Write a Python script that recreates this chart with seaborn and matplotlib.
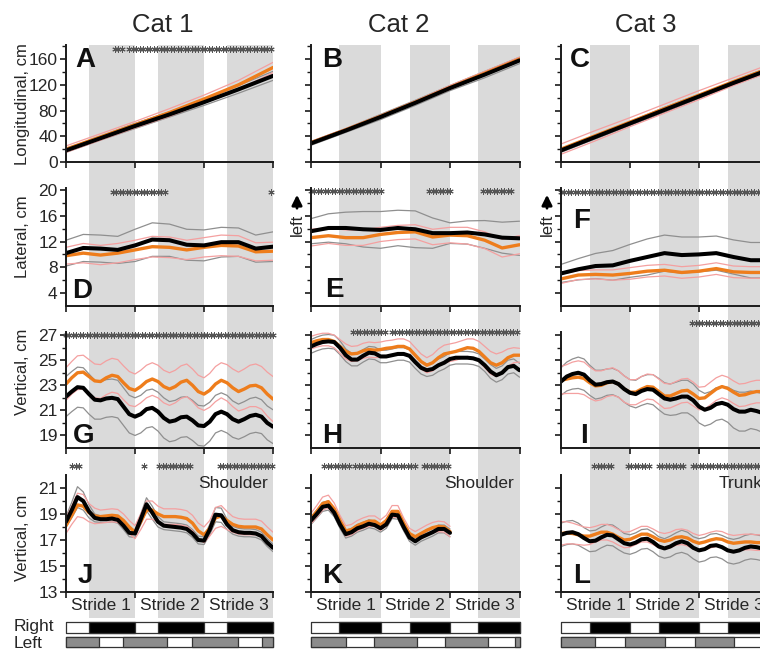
import numpy as np
import pandas as pd
import seaborn as sns
from matplotlib import pyplot as plt

# ---- sample positions (stride units) ----
phase_long = np.linspace(0, 3, 7)
phase_lat = np.linspace(0, 3, 13)
phase_vert = np.linspace(0, 3, 37)
phase_k = np.linspace(0, 2, 25)

# ---- Longitudinal (A, B, C) ----
A_black = [18, 37, 56, 74, 93, 113, 134]
A_black_sd = [3, 3, 4, 4, 5, 6, 7]
A_orange = [20, 39, 58, 77, 98, 120, 147]
A_orange_sd = [5, 5, 5, 6, 6, 7, 8]

B_black = [29, 49, 70, 92, 115, 136, 158]
B_black_sd = [3, 3, 4, 4, 4, 5, 5]
B_orange = [30, 50, 71, 93, 116, 138, 160]
B_orange_sd = [2, 2, 2, 2, 3, 3, 3]

C_black = [18, 39, 60, 81, 102, 123, 143]
C_black_sd = [3, 3, 3, 4, 3, 3, 4]
C_orange = [20, 41, 62, 83, 104, 125, 145]
C_orange_sd = [8, 8, 7, 7, 7, 6, 6]

# ---- Lateral (D, E, F) ----
D_black = [10.2, 11.0, 10.9, 10.7, 11.4, 12.3, 12.2, 11.5, 11.4, 11.9, 11.9, 10.9, 11.2]
D_black_sd = [2.0, 2.1, 2.1, 2.1, 2.5, 2.6, 2.5, 2.4, 2.4, 2.3, 2.2, 2.1, 2.3]
D_orange = [9.8, 10.2, 9.9, 10.2, 10.7, 11.2, 11.1, 10.7, 11.1, 11.4, 11.3, 10.4, 10.5]
D_orange_sd = [1.3, 1.5, 1.5, 1.5, 1.5, 1.6, 1.6, 1.5, 1.5, 1.6, 1.6, 1.4, 1.4]

E_black = [13.6, 14.1, 14.1, 13.9, 13.8, 14.1, 13.9, 13.3, 13.3, 13.4, 13.1, 12.6, 12.5]
E_black_sd = [1.95, 2.2, 2.45, 2.75, 2.85, 2.75, 2.85, 2.35, 1.6, 1.8, 2.15, 2.4, 2.65]
E_orange = [12.6, 12.9, 12.6, 12.6, 13.1, 13.4, 13.5, 12.7, 13.0, 12.9, 12.2, 11.0, 11.5]
E_orange_sd = [1.3, 1.2, 1.2, 1.2, 1.1, 1.1, 1.1, 1.2, 1.2, 1.3, 1.3, 1.4, 1.4]

F_black = [7.05, 7.7, 8.2, 8.3, 9.0, 9.6, 10.2, 9.9, 10.0, 10.2, 9.6, 9.1, 9.1]
F_black_sd = [1.4, 1.65, 1.95, 2.3, 2.55, 2.8, 2.8, 2.8, 2.7, 2.65, 2.65, 2.75, 2.75]
F_orange = [6.2, 6.8, 6.9, 6.8, 7.05, 7.4, 7.55, 7.2, 7.4, 7.8, 7.3, 7.2, 7.2]
F_orange_sd = [0.7, 0.7, 0.7, 0.8, 0.9, 0.9, 0.9, 0.9, 0.9, 0.9, 0.9, 0.9, 0.9]

# ---- Vertical, row 3 (G, H, I) ----
G_black = [22.1, 22.5, 22.85, 22.8, 22.3, 21.85, 21.8, 21.95, 22.0, 21.9, 21.3, 20.7, 20.5,
           20.7, 21.1, 21.2, 20.9, 20.4, 20.1, 20.2, 20.45, 20.5, 20.2, 19.8, 19.75, 20.1,
           20.7, 20.9, 20.7, 20.3, 20.1, 20.3, 20.55, 20.65, 20.5, 20.0, 19.7]
G_black_sd = [1.6, 1.6, 1.6, 1.6, 1.6, 1.55, 1.5, 1.5, 1.5, 1.5, 1.5, 1.5, 1.5, 1.5, 1.5,
              1.5, 1.55, 1.6, 1.6, 1.6, 1.6, 1.6, 1.6, 1.6, 1.6, 1.55, 1.5, 1.5, 1.5, 1.45,
              1.4, 1.4, 1.4, 1.4, 1.35, 1.35, 1.35]
G_orange = [23.1, 23.6, 24.0, 24.05, 23.7, 23.35, 23.3, 23.6, 23.8, 23.7, 23.2, 22.75, 22.6,
            22.9, 23.3, 23.5, 23.3, 22.9, 22.7, 22.9, 23.25, 23.4, 23.0, 22.5, 22.3, 22.6,
            23.1, 23.4, 23.2, 22.8, 22.5, 22.7, 22.95, 23.0, 22.8, 22.3, 21.9]
G_orange_sd = [1.3, 1.3, 1.35, 1.35, 1.35, 1.35, 1.35, 1.35, 1.35, 1.35, 1.35, 1.35, 1.3,
               1.3, 1.3, 1.3, 1.3, 1.3, 1.3, 1.3, 1.3, 1.3, 1.3, 1.3, 1.3, 1.35, 1.4, 1.4,
               1.45, 1.5, 1.55, 1.6, 1.65, 1.7, 1.7, 1.75, 1.8]

H_black = [26.1, 26.3, 26.45, 26.5, 26.45, 26.0, 25.4, 25.05, 25.05, 25.35, 25.6, 25.55,
           25.3, 25.3, 25.4, 25.5, 25.5, 25.35, 24.85, 24.4, 24.2, 24.3, 24.6, 24.8, 25.1,
           25.2, 25.2, 25.2, 25.15, 25.0, 24.6, 24.1, 23.8, 24.0, 24.45, 24.55, 24.2]
H_black_sd = [0.55, 0.55, 0.55, 0.55, 0.55, 0.55, 0.5, 0.5, 0.5, 0.5, 0.5, 0.5, 0.5, 0.5,
              0.5, 0.5, 0.5, 0.5, 0.5, 0.5, 0.5, 0.5, 0.5, 0.5, 0.5, 0.5, 0.5, 0.5, 0.5,
              0.5, 0.5, 0.55, 0.55, 0.55, 0.55, 0.55, 0.55]
H_orange = [26.4, 26.55, 26.65, 26.65, 26.5, 26.1, 25.7, 25.5, 25.55, 25.75, 25.85, 25.8,
            25.85, 25.95, 26.0, 26.1, 26.1, 25.9, 25.4, 24.9, 24.6, 24.8, 25.2, 25.5, 25.6,
            25.7, 25.85, 26.0, 25.95, 25.7, 25.25, 24.8, 24.6, 24.8, 25.2, 25.4, 25.4]
H_orange_sd = [0.5, 0.5, 0.5, 0.5, 0.5, 0.55, 0.6, 0.6, 0.6, 0.6, 0.6, 0.6, 0.6, 0.6, 0.6,
               0.6, 0.6, 0.6, 0.6, 0.6, 0.6, 0.65, 0.7, 0.7, 0.7, 0.7, 0.7, 0.7, 0.75, 0.8,
               0.85, 0.9, 0.9, 0.85, 0.7, 0.6, 0.55]

I_black = [23.3, 23.7, 23.9, 24.0, 23.85, 23.4, 23.05, 23.1, 23.25, 23.3, 23.1, 22.7, 22.4,
           22.3, 22.55, 22.7, 22.65, 22.3, 21.95, 21.85, 21.95, 22.1, 22.1, 21.8, 21.3,
           21.05, 21.2, 21.5, 21.6, 21.45, 21.1, 20.9, 20.9, 21.05, 20.95, 20.8, 20.7]
I_black_sd = [1.1, 1.15, 1.2, 1.25, 1.25, 1.2, 1.15, 1.1, 1.05, 1.05, 1.05, 1.05, 1.05, 1.1,
              1.15, 1.15, 1.2, 1.25, 1.25, 1.25, 1.3, 1.3, 1.3, 1.3, 1.3, 1.3, 1.3, 1.3,
              1.3, 1.4, 1.5, 1.55, 1.55, 1.5, 1.5, 1.55, 1.6]
I_orange = [23.4, 23.5, 23.6, 23.65, 23.55, 23.2, 22.95, 23.0, 23.2, 23.3, 23.1, 22.7, 22.45,
            22.45, 22.7, 22.9, 22.85, 22.5, 22.15, 22.15, 22.35, 22.55, 22.6, 22.3, 21.95,
            22.0, 22.35, 22.7, 22.9, 22.75, 22.45, 22.2, 22.25, 22.4, 22.5, 22.5, 22.45]
I_orange_sd = [1.1, 1.15, 1.25, 1.3, 1.3, 1.25, 1.2, 1.15, 1.1, 1.1, 1.05, 1.05, 1.0, 1.0,
               1.0, 1.0, 1.0, 1.0, 1.0, 0.95, 0.95, 0.95, 0.95, 0.95, 0.9, 0.9, 0.9, 0.9,
               0.9, 0.9, 0.9, 0.9, 0.9, 0.9, 0.9, 0.9, 0.9]

# ---- Vertical, row 4 (J, K, L) ----
J_black = [18.4, 19.3, 20.3, 20.0, 19.2, 18.7, 18.6, 18.6, 18.65, 18.55, 18.1, 17.55, 17.5,
           18.6, 19.75, 19.1, 18.4, 18.1, 18.05, 18.0, 17.95, 17.85, 17.5, 17.0, 16.95, 17.8,
           18.95, 18.9, 18.2, 17.75, 17.6, 17.55, 17.55, 17.5, 17.3, 16.8, 16.4]
J_black_sd = [0.4, 0.6, 0.8, 0.7, 0.5, 0.3, 0.25, 0.25, 0.25, 0.25, 0.3, 0.3, 0.3, 0.4, 0.5,
              0.5, 0.4, 0.3, 0.3, 0.3, 0.3, 0.3, 0.3, 0.3, 0.3, 0.4, 0.55, 0.55, 0.4, 0.3,
              0.3, 0.3, 0.3, 0.3, 0.3, 0.3, 0.3]
J_orange = [18.1, 18.9, 19.7, 19.6, 19.1, 18.85, 18.8, 18.85, 18.9, 18.85, 18.5, 18.0, 17.6,
            18.4, 19.3, 19.3, 19.0, 18.8, 18.8, 18.8, 18.75, 18.65, 18.3, 17.7, 17.4, 17.9,
            18.7, 18.85, 18.5, 18.2, 18.05, 18.0, 18.0, 18.0, 17.85, 17.4, 17.0]
J_orange_sd = [0.6, 0.7, 0.9, 0.9, 0.7, 0.6, 0.5, 0.5, 0.5, 0.5, 0.5, 0.5, 0.5, 0.6, 0.7,
               0.7, 0.6, 0.6, 0.6, 0.6, 0.6, 0.6, 0.6, 0.6, 0.6, 0.6, 0.8, 0.8, 0.7, 0.6,
               0.6, 0.6, 0.6, 0.6, 0.6, 0.6, 0.6]

K_black = [18.5, 19.0, 19.55, 19.65, 19.1, 18.2, 17.45, 17.6, 17.9, 18.05, 18.25, 18.15,
           17.9, 18.2, 18.95, 18.9, 18.0, 17.2, 16.9, 17.2, 17.4, 17.6, 17.85, 17.85, 17.55]
K_black_sd = [0.3, 0.3, 0.35, 0.35, 0.3, 0.3, 0.3, 0.3, 0.3, 0.3, 0.3, 0.3, 0.3, 0.3, 0.3,
              0.3, 0.3, 0.3, 0.3, 0.3, 0.3, 0.3, 0.3, 0.3, 0.3]
K_orange = [18.65, 19.2, 19.8, 19.95, 19.4, 18.5, 17.7, 17.8, 18.1, 18.3, 18.45, 18.45,
            18.15, 18.5, 19.2, 19.2, 18.3, 17.5, 17.25, 17.5, 17.75, 17.95, 18.05, 18.0, 17.65]
K_orange_sd = [0.4, 0.45, 0.5, 0.5, 0.45, 0.4, 0.4, 0.4, 0.4, 0.4, 0.4, 0.4, 0.4, 0.4,
               0.45, 0.45, 0.4, 0.4, 0.4, 0.4, 0.4, 0.4, 0.4, 0.4, 0.4]

L_black = [17.4, 17.55, 17.6, 17.45, 17.15, 16.9, 16.95, 17.2, 17.4, 17.35, 17.05, 16.75,
           16.65, 16.8, 17.05, 17.1, 16.85, 16.5, 16.35, 16.5, 16.75, 16.9, 16.75, 16.4,
           16.2, 16.3, 16.55, 16.6, 16.45, 16.2, 16.1, 16.2, 16.4, 16.5, 16.45, 16.35, 16.3]
L_black_sd = [0.9, 0.9, 0.9, 0.85, 0.8, 0.8, 0.8, 0.8, 0.8, 0.8, 0.8, 0.75, 0.75, 0.75,
              0.75, 0.75, 0.75, 0.75, 0.75, 0.8, 0.8, 0.85, 0.85, 0.85, 0.9, 0.9, 0.9, 0.9,
              0.9, 0.95, 0.95, 0.95, 0.95, 0.95, 0.95, 0.95, 0.95]
L_orange = [17.5, 17.55, 17.5, 17.4, 17.3, 17.3, 17.45, 17.6, 17.6, 17.45, 17.2, 17.0,
            17.05, 17.25, 17.45, 17.45, 17.25, 17.0, 16.9, 17.0, 17.2, 17.25, 17.15, 16.9,
            16.75, 16.85, 17.0, 17.1, 17.05, 16.85, 16.75, 16.8, 16.85, 16.85, 16.8, 16.8, 16.8]
L_orange_sd = [0.9, 0.85, 0.8, 0.75, 0.7, 0.65, 0.6, 0.6, 0.6, 0.6, 0.6, 0.6, 0.6, 0.6,
               0.6, 0.6, 0.6, 0.6, 0.6, 0.6, 0.6, 0.6, 0.6, 0.6, 0.6, 0.6, 0.6, 0.6, 0.6,
               0.6, 0.6, 0.6, 0.6, 0.6, 0.6, 0.6, 0.6]

# ---- significance intervals (stride units) ----
SIG = {
    'A': [(0.71, 0.83), (0.92, 3.0)], 'B': [], 'C': [],
    'D': [(0.68, 1.46), (2.97, 3.0)], 'E': [(0.0, 1.0), (1.7, 2.0), (2.48, 2.89)],
    'F': [(0.0, 3.0)],
    'G': [(0.0, 3.0)], 'H': [(0.61, 1.1), (1.16, 3.0)], 'I': [(1.9, 3.0)],
    'J': [(0.09, 0.23), (1.13, 1.14), (1.35, 1.84), (2.23, 2.98)],
    'K': [(0.19, 0.54), (0.64, 1.52), (1.62, 2.01)],
    'L': [(0.48, 0.77), (0.97, 1.27), (1.42, 1.77), (1.91, 3.0)],
}

# ---- stance phases per cat (stride units) ----
right_stance = [
    [(0.33, 1.0), (1.33, 2.0), (2.33, 3.0)],
    [(0.41, 1.0), (1.42, 2.0), (2.41, 3.0)],
    [(0.42, 1.0), (1.42, 2.0), (2.42, 3.0)],
]
left_stance = [
    [(0.0, 0.48), (0.83, 1.46), (1.83, 2.49), (2.84, 3.0)],
    [(0.0, 0.5), (0.91, 1.52), (1.93, 2.54), (2.93, 3.0)],
    [(0.0, 0.49), (0.93, 1.5), (1.94, 2.5), (2.93, 3.0)],
]

cats = ['Cat 1', 'Cat 2', 'Cat 3']
stride_labels = ['Stride 1', 'Stride 2', 'Stride 3']
row_labels = ['Longitudinal, cm', 'Lateral, cm', 'Vertical, cm', 'Vertical, cm']
site_labels = ['Shoulder', 'Shoulder', 'Trunk']

# ---------------- styling ----------------
sns.set_style('ticks')
plt.rcParams['font.family'] = ['Liberation Sans', 'DejaVu Sans']

W, H = 760, 650
fig = plt.figure(figsize=(7.6, 6.5), dpi=100)


def px_axes(x0, y0, x1, y1):
    return fig.add_axes([x0 / W, 1 - y1 / H, (x1 - x0) / W, (y1 - y0) / H])


COL_X = [(66, 273), (311, 519.5), (561, 768)]
ROW_Y = [(45, 162), (188, 306), (332, 448), (475, 592)]
ROW_LIM = [(0, 182), (2, 20.3), (18, 27.25), (13, 22)]
ROW_MAJOR = [[0, 40, 80, 120, 160], [4, 8, 12, 16, 20], [19, 21, 23, 25, 27], [13, 15, 17, 19, 21]]
ROW_MINOR = [[20, 60, 100, 140, 180], [6, 10, 14, 18], [20, 22, 24, 26], [14, 16, 18, 20]]
YLABEL_Y = [104, 237, 372, 538]

ORDER = ['black_lo', 'black_hi', 'orange_lo', 'orange_hi', 'orange', 'black']
PALETTE = {'black_lo': '#8f8f8f', 'black_hi': '#8f8f8f', 'orange_lo': '#f4a0a0',
           'orange_hi': '#f4a0a0', 'orange': '#ee7d1c', 'black': '#000000'}
WIDTHS = {'black_lo': 0.9, 'black_hi': 0.9, 'orange_lo': 0.9, 'orange_hi': 0.9,
          'orange': 2.4, 'black': 2.9}


def long_frame(phase, black, black_sd, orange, orange_sd):
    b, bs = np.asarray(black, float), np.asarray(black_sd, float)
    o, osd = np.asarray(orange, float), np.asarray(orange_sd, float)
    curves = {'black_lo': b - bs, 'black_hi': b + bs, 'orange_lo': o - osd,
              'orange_hi': o + osd, 'orange': o, 'black': b}
    return pd.concat([pd.DataFrame({'phase': phase, 'value': v, 'curve': k})
                      for k, v in curves.items()], ignore_index=True)


panels = [
    # letter, row, col, phase, black, black_sd, orange, orange_sd, letter pos, asterisk level
    ('A', 0, 0, phase_long, A_black, A_black_sd, A_orange, A_orange_sd, (0.043, 0.81), 0.966),
    ('B', 0, 1, phase_long, B_black, B_black_sd, B_orange, B_orange_sd, (0.053, 0.81), 0.966),
    ('C', 0, 2, phase_long, C_black, C_black_sd, C_orange, C_orange_sd, (0.043, 0.81), 0.966),
    ('D', 1, 0, phase_lat, D_black, D_black_sd, D_orange, D_orange_sd, (0.03, 0.068), 0.966),
    ('E', 1, 1, phase_lat, E_black, E_black_sd, E_orange, E_orange_sd, (0.067, 0.076), 0.975),
    ('F', 1, 2, phase_lat, F_black, F_black_sd, F_orange, F_orange_sd, (0.058, 0.66), 0.966),
    ('G', 2, 0, phase_vert, G_black, G_black_sd, G_orange, G_orange_sd, (0.034, 0.043), 0.974),
    ('H', 2, 1, phase_vert, H_black, H_black_sd, H_orange, H_orange_sd, (0.053, 0.043), 1.0),
    ('I', 2, 2, phase_vert, I_black, I_black_sd, I_orange, I_orange_sd, (0.092, 0.043), 1.078),
    ('J', 3, 0, phase_vert, J_black, J_black_sd, J_orange, J_orange_sd, (0.058, 0.077), 1.077),
    ('K', 3, 1, phase_k, K_black, K_black_sd, K_orange, K_orange_sd, (0.053, 0.077), 1.077),
    ('L', 3, 2, phase_vert, L_black, L_black_sd, L_orange, L_orange_sd, (0.058, 0.077), 1.077),
]

# gray stance bands, one background axes per column
for c, (x0, x1) in enumerate(COL_X):
    bg = px_axes(x0, 45, x1, 618)
    bg.set_xlim(0, 3)
    bg.axis('off')
    for a, b in right_stance[c]:
        bg.axvspan(a, b, color='#dadada', lw=0)

for letter, r, c, phase, bl, bl_sd, orr, or_sd, lpos, star_y in panels:
    x0, x1 = COL_X[c]
    y0, y1 = ROW_Y[r]
    ax = px_axes(x0, y0, x1, y1)
    ax.set_facecolor('none')
    df = long_frame(phase, bl, bl_sd, orr, or_sd)
    sns.lineplot(data=df, x='phase', y='value', hue='curve', hue_order=ORDER,
                 palette=PALETTE, size='curve', size_order=ORDER, sizes=WIDTHS,
                 estimator=None, legend=False, ax=ax, solid_joinstyle='round')
    ax.set(xlabel='', ylabel='')
    ax.set_xlim(0, 3)
    ax.set_ylim(*ROW_LIM[r])
    ax.set_xticks([0, 1, 2, 3])
    ax.set_yticks(ROW_MAJOR[r])
    ax.set_yticks(ROW_MINOR[r], minor=True)
    sns.despine(ax=ax)
    for s in ('left', 'bottom'):
        ax.spines[s].set_linewidth(1.4)
        ax.spines[s].set_color('#1a1a1a')
    ax.tick_params(which='major', direction='out', length=4, width=1.2, color='#1a1a1a',
                   labelsize=12.5, pad=2, labelbottom=False, labelleft=(c == 0))
    ax.tick_params(which='minor', direction='out', length=3, width=1.0, color='#1a1a1a')

    # panel letter
    ax.text(lpos[0], lpos[1], letter, transform=ax.transAxes, fontsize=20,
            fontweight='bold', ha='left', va='baseline', color='#111111')

    # significance asterisks
    for a, b in SIG[letter]:
        xs = np.arange(a, b + 1e-9, 0.05)
        ax.plot(xs, np.full(len(xs), star_y), transform=ax.get_xaxis_transform(),
                ls='none', marker=(6, 2, 0), ms=4.5, mew=0.7, color='#555555',
                clip_on=False)

    if r == 3:
        for i, lab in enumerate(stride_labels):
            ax.text(i + 0.5, -0.115, lab, transform=ax.get_xaxis_transform(),
                    ha='center', va='center', fontsize=12.5)
        ax.text(2.92, 0.93, site_labels[c], transform=ax.get_xaxis_transform(),
                ha='right', va='center', fontsize=12.5)

# footfall bars
for c, (x0, x1) in enumerate(COL_X):
    bx = px_axes(x0, 621, x1, 648)
    bx.set_xlim(0, 3)
    bx.set_ylim(0, 1)
    bx.axis('off')
    bx.broken_barh([(0, 3)], (0.57, 0.40), facecolors='white', edgecolor='#333333',
                   linewidth=0.9, clip_on=False)
    bx.broken_barh([(a, b - a) for a, b in right_stance[c]], (0.57, 0.40),
                   facecolors='black', edgecolor='#333333', linewidth=0.9, clip_on=False)
    bx.broken_barh([(0, 3)], (0.03, 0.39), facecolors='white', edgecolor='#333333',
                   linewidth=0.9, clip_on=False)
    bx.broken_barh([(a, b - a) for a, b in left_stance[c]], (0.03, 0.39),
                   facecolors='#8c8c8c', edgecolor='#333333', linewidth=0.9, clip_on=False)

fig.text(14 / W, 1 - 627 / H, 'Right', ha='left', va='center', fontsize=12.5)
fig.text(14 / W, 1 - 643 / H, 'Left', ha='left', va='center', fontsize=12.5)

# column titles
for xc, name in zip([163, 399, 646], cats):
    fig.text(xc / W, 1 - 32 / H, name, ha='center', va='baseline', fontsize=18.5)

# row labels
for lab, yc in zip(row_labels, YLABEL_Y):
    fig.text(23 / W, 1 - yc / H, lab, rotation=90, ha='center', va='center', fontsize=12)

# "left" direction markers
for xc in [297, 547]:
    fig.text(xc / W, 1 - 225 / H, 'left', rotation=90, ha='center', va='center', fontsize=12)
    fig.add_artist(plt.Annotation('', xy=(xc / W, 1 - 192 / H), xytext=(xc / W, 1 - 211 / H),
                                  xycoords='figure fraction', textcoords='figure fraction',
                                  arrowprops=dict(arrowstyle='-|>', lw=2.0, color='black',
                                                  mutation_scale=15)))

plt.savefig('out.png', dpi=100)
